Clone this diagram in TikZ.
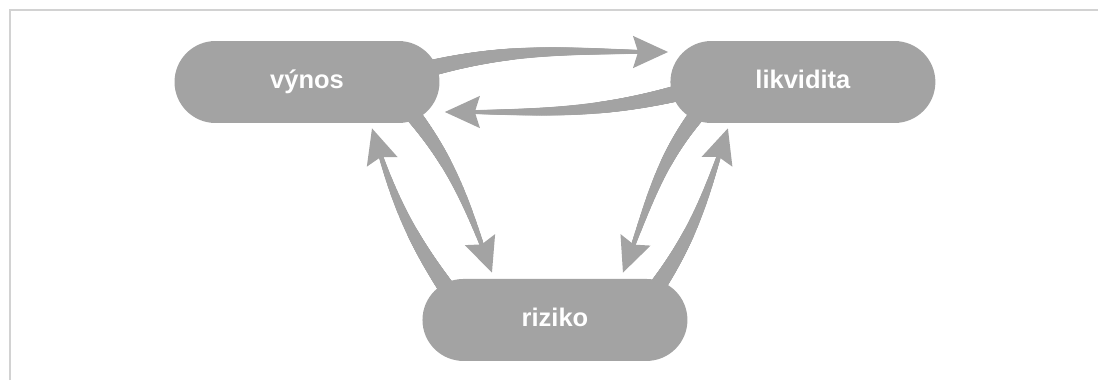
\documentclass[tikz,border=0pt]{standalone}
\usepackage{fontspec}
\setmainfont{Liberation Sans}
\usetikzlibrary{positioning,arrows.meta,decorations.markings,backgrounds}
\definecolor{boxgray}{HTML}{A3A3A3}
\definecolor{framegray}{HTML}{D2D2D2}
\tikzset{
  pill/.style={rectangle, rounded corners=0.82cm, minimum width=5.3cm, minimum height=1.64cm,
    text height=1.9ex, text depth=0.5ex,
    fill=boxgray, text=white, font=\bfseries\fontsize{14.5}{17}\selectfont},
  flow/.style={draw=boxgray, line width=1pt, -{Stealth[length=0.7cm, width=0.64cm, inset=0.1cm]},
    postaction={decorate, decoration={markings,
      mark=between positions 0 and 0.95 step 0.4pt with {
        \pgfmathsetmacro\flowrad{4.8-4.2*\pgfkeysvalueof{/pgf/decoration/mark info/distance from start}/\pgfdecoratedpathlength}
        \fill[boxgray] (0,0) circle (\flowrad pt);}}}}
}
\begin{document}
\begin{tikzpicture}[x=0.02cm,y=0.02cm,node distance=9.92cm,on grid]
\useasboundingbox (0,0) rectangle (1098,380);
\draw[framegray, line width=0.05cm] (10,0) -- (10,370) -- (1098,370);
               \node[pill] (vynos) at (307,298) {výnos};
               \node[pill] (likvidita) [right=of vynos] {likvidita};
               \node[pill] (riziko) [below right=4.76cm and 4.96cm of vynos] {riziko};
\begin{scope}[on background layer]
		\path
			([shift={(113,11)}]vynos.center)	edge [flow, out=15, in=180] ([shift={(-2,30)}]likvidita.west)
			([shift={(-113,-8)}]likvidita.center)	edge [flow, out=195, in=0] ([shift={(5,-30)}]vynos.east)
			([shift={(98,-23)}]vynos.center)	edge [flow, out=-50, in=110] ([shift={(-63,6)}]riziko.north)
			([shift={(-107,30)}]riziko.center)	edge [flow, out=125, in=-73] ([shift={(65,-5)}]vynos.south)
			([shift={(-98,-23)}]likvidita.center)	edge [flow, out=-130, in=69] ([shift={(68,6)}]riziko.north)
			([shift={(100,30)}]riziko.center)	edge [flow, out=55, in=-108] ([shift={(-75,-5)}]likvidita.south);
\end{scope}
\end{tikzpicture}
\end{document}
